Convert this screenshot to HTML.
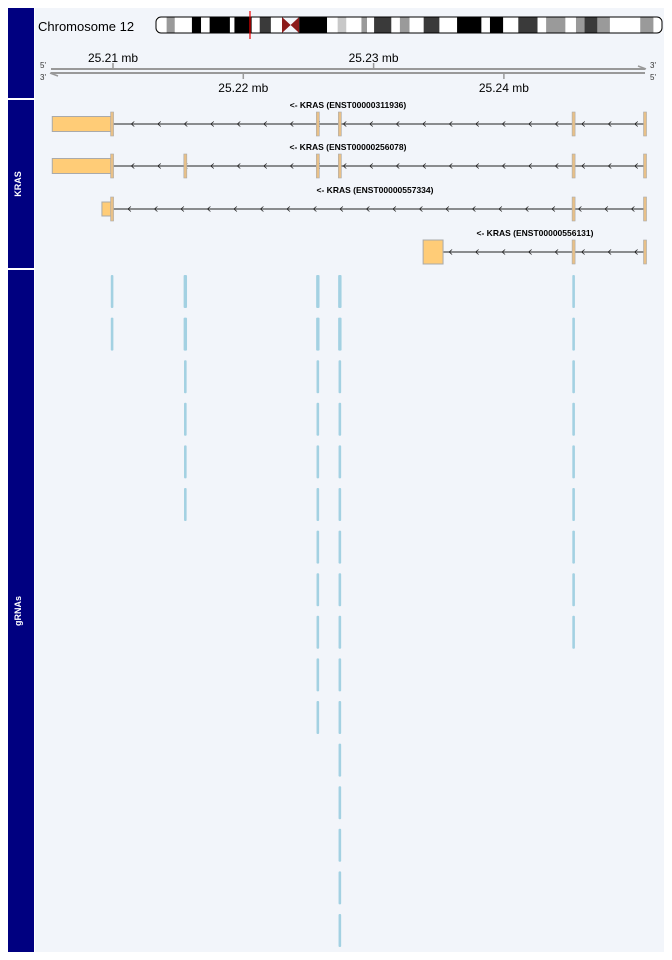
<!DOCTYPE html>
<html><head><meta charset="utf-8"><style>
body{margin:0;background:#fff;width:672px;height:960px;overflow:hidden}
svg{display:block;font-family:"Liberation Sans",Arial,sans-serif}
</style></head><body>
<svg id="s" width="672" height="960" viewBox="0 0 672 960">
<rect x="35" y="8" width="629" height="944" fill="#f2f5fa"/>
<rect x="8" y="8" width="26" height="90" fill="#000080"/>
<rect x="8" y="100" width="26" height="168" fill="#000080"/>
<text x="21" y="184" fill="#fff" font-size="9" font-weight="bold" text-anchor="middle" transform="rotate(-90 21 184)">KRAS</text>
<rect x="8" y="270" width="26" height="682" fill="#000080"/>
<text x="21" y="611" fill="#fff" font-size="9" font-weight="bold" text-anchor="middle" transform="rotate(-90 21 611)">gRNAs</text>
<text x="38" y="31" font-size="13" fill="#000">Chromosome 12</text>
<g id="ideo"></g>
<g id="axis"></g>
<g id="genes"></g>
<g id="grna"></g>
</svg>
<script>
// ---- data ----
const axisTicksTop=[25.21,25.23];
const axisTicksBottom=[25.22,25.24];
const transcriptNames=["ENST00000311936","ENST00000256078","ENST00000557334","ENST00000556131"];
const transcriptStart=[25.20534,25.20534,25.20915,25.23380]; // mb, left end
const transcriptEnd=[25.25083,25.25083,25.25083,25.25083];
const utrEnd=[25.20993,25.20993,25.20993,25.23533];
const exonPos=[[25.20993,25.22572,25.22741,25.24535,25.25083],[25.20993,25.21555,25.22572,25.22741,25.24535,25.25083],[25.20993,25.24535,25.25083],[25.24535,25.25083]];
const grnaPos=[25.20993,25.21555,25.22572,25.22741,25.24535];
const grnaCounts=[2,6,11,16,9];
// chromosome bands (fraction of ideogram width, stain)
const bandEdges=[0,0.021,0.037,0.071,0.089,0.106,0.146,0.155,0.189,0.196,0.205,0.227,0.249,0.283,0.338,0.359,0.376,0.406,0.417,0.431,0.465,0.482,0.501,0.529,0.56,0.595,0.643,0.66,0.686,0.716,0.754,0.771,0.809,0.83,0.847,0.872,0.897,0.957,0.983,1];
const bandStain=["w","g","w","b","w","b","w","b","w","w","d","w","cen","b","w","l","w","g","w","d","w","g","w","d","w","b","w","b","w","d","w","g","w","g","d","g","w","g","w"];
// ---- helpers ----
const NS="http://www.w3.org/2000/svg";
function x(mb){return 113+(mb-25.21)*13030;}
function mk(p,tag,a){const e=document.createElementNS(NS,tag);for(const k in a)e.setAttribute(k,a[k]);p.appendChild(e);return e;}
// ideogram
const ideo=document.getElementById('ideo');const ix0=156,iw=506,iy=17,ih=16;
const colors={w:"#ffffff",b:"#000000",g:"#9a9a9a",d:"#3a3a3a",l:"#c8c8c8"};
for(let i=0;i<bandStain.length;i++){
 const a=ix0+bandEdges[i]*iw,b=ix0+bandEdges[i+1]*iw;
 if(bandStain[i]==="cen"){
  const m=(a+b)/2;
  const t=mk(ideo,'polygon',{points:`${a},${iy} ${m},${iy+ih/2} ${a},${iy+ih}`,fill:"#8b1a1a"});
  
  const t2=mk(ideo,'polygon',{points:`${b},${iy} ${m},${iy+ih/2} ${b},${iy+ih}`,fill:"#8b1a1a"});
  
 } else {
  const r=mk(ideo,'rect',{x:a,y:iy,width:b-a+0.3,height:ih,fill:colors[bandStain[i]]});
  
 }
}
mk(ideo,'rect',{x:ix0,y:iy,width:iw,height:ih,rx:5,fill:"none",stroke:"#000","stroke-width":1});
const hl=mk(ideo,'line',{x1:250,x2:250,y1:11,y2:39,stroke:"#e00","stroke-width":1.2});

// axis
const ax=document.getElementById('axis');
mk(ax,'line',{x1:51,x2:645,y1:69,y2:69,stroke:"#999","stroke-width":2});
mk(ax,'line',{x1:51,x2:645,y1:73,y2:73,stroke:"#999","stroke-width":2});
mk(ax,'polyline',{points:"638,66 646,69",stroke:"#999",fill:"none","stroke-width":1.5});
mk(ax,'polyline',{points:"58,76 50,73",stroke:"#999",fill:"none","stroke-width":1.5});
[["5'",40,68,"s5a"],["3'",40,80,"s3a"],["3'",650,68,"s3b"],["5'",650,80,"s5b"]].forEach(a=>{const t=mk(ax,'text',{x:a[1],y:a[2],"font-size":8,"text-anchor":"start",fill:"#333"});t.textContent=a[0];});
axisTicksTop.forEach(v=>{mk(ax,'line',{x1:x(v),x2:x(v),y1:63,y2:69,stroke:"#999","stroke-width":1.5});const t=mk(ax,'text',{x:x(v),y:62,"font-size":12,"text-anchor":"middle"});t.textContent=v.toFixed(2)+" mb";});
axisTicksBottom.forEach(v=>{mk(ax,'line',{x1:x(v),x2:x(v),y1:73,y2:79,stroke:"#999","stroke-width":1.5});const t=mk(ax,'text',{x:x(v),y:92,"font-size":12,"text-anchor":"middle"});t.textContent=v.toFixed(2)+" mb";});
// genes
const g=document.getElementById('genes');
const rowY=[124,166,209,252];
transcriptNames.forEach((n,i)=>{
 const y=rowY[i],xs=x(transcriptStart[i]),xe=x(transcriptEnd[i]);
 const grp=mk(g,'g',{});
 mk(grp,'line',{x1:xs,x2:xe,y1:y,y2:y,stroke:"#222","stroke-width":1});
 for(let ax2=xs+26;ax2<xe-4;ax2+=26.5){mk(grp,'polyline',{points:`${ax2+3},${y-2.5} ${ax2},${y} ${ax2+3},${y+2.5}`,stroke:"#222",fill:"none","stroke-width":0.8});}
 const uw=x(utrEnd[i])-xs, uh=i===3?24:i===2?14:15;
 mk(grp,'rect',{x:xs,y:y-uh/2,width:uw,height:uh,fill:"#ffcc77",stroke:"#aaa","stroke-width":1});
 exonPos[i].forEach(p=>{mk(grp,'rect',{x:x(p)-1.5,y:y-12,width:3,height:24,fill:"#e8c088",stroke:"#aaa","stroke-width":0.6});});
 const lx=(i===3)?535:(i===2)?375:348;
 const t=mk(grp,'text',{x:lx,y:y-16,"font-size":8.5,"font-weight":"bold","text-anchor":"middle"});t.textContent="<- KRAS ("+n+")";
});
// gRNAs
const gr=document.getElementById('grna');
grnaPos.forEach((p,c)=>{for(let r=0;r<grnaCounts[c];r++){
 const y0=275+r*42.6;
 const w=(c>=1&&c<=3&&r<2)?3.4:2.6;
 const l=mk(gr,'rect',{x:x(p)-w/2,y:y0,width:w,height:33,rx:1,fill:"#a3d1e2"});
 
 
}});
</script>
</body></html>
